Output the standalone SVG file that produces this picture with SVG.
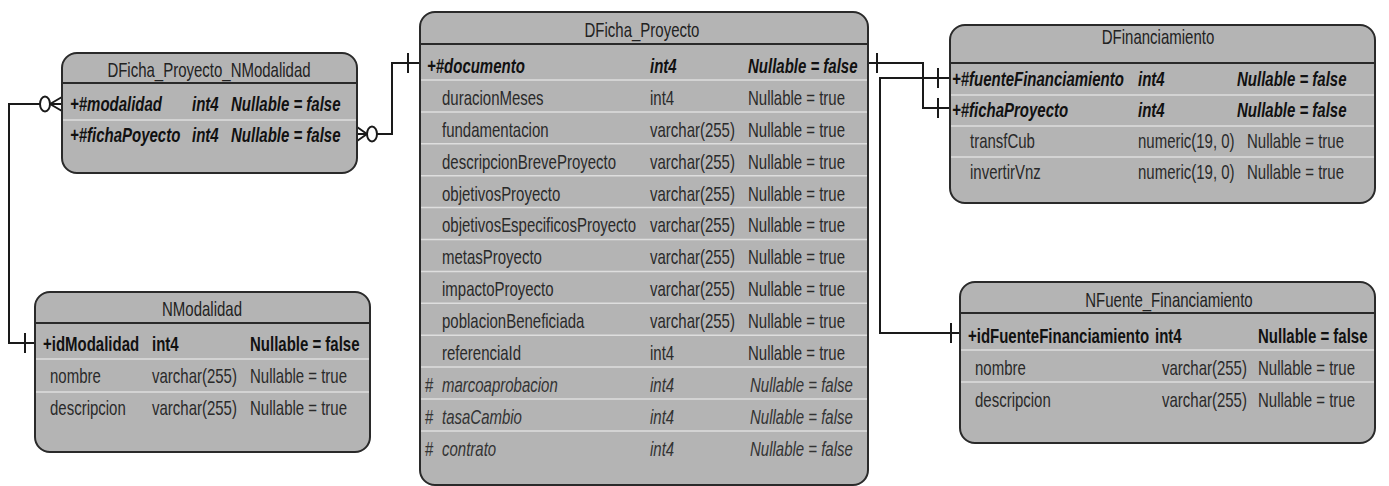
<svg xmlns="http://www.w3.org/2000/svg" width="1389" height="486" viewBox="0 0 1389 486">
  <style>
    .box { fill:#b4b4b4; stroke:#2a2a2a; stroke-width:2; }
    .hdr { stroke:#2a2a2a; stroke-width:2; }
    .sep { stroke:#dedede; stroke-width:1.5; }
    text { font-family:"Liberation Sans", Arial, sans-serif; font-size:20px; fill:#2a2a2a; }
    .title { fill:#222; }
    .k { font-weight:bold; font-style:italic; fill:#111; }
    .p { font-weight:bold; fill:#111; }
    .i { font-style:italic; fill:#333; }
    .wire { fill:none; stroke:#1a1a1a; stroke-width:2; }
  </style>

  <rect width="1389" height="486" fill="#ffffff"/>

  <!-- relationships -->
  <g id="connectors" class="wire">
    <!-- DFicha_Proyecto_NModalidad.modalidad -> NModalidad.idModalidad -->
    <path d="M40,104 H9 V343 H35"/>
    <ellipse cx="45" cy="104" rx="5" ry="7.5"/>
    <path d="M50,104 L62,97 M50,104 H62 M50,104 L62,111"/>
    <path d="M25,333 V353"/>
    <!-- DFicha_Proyecto_NModalidad.fichaPoyecto -> DFicha_Proyecto.documento -->
    <path d="M377,134 H392 V63 H420"/>
    <ellipse cx="372" cy="134" rx="5" ry="7.5"/>
    <path d="M367,134 L357,127 M367,134 H357 M367,134 L357,141"/>
    <path d="M408,53 V73"/>
    <!-- DFicha_Proyecto.documento -> DFinanciamiento.fichaProyecto -->
    <path d="M868,63 H923 V108 H950"/>
    <path d="M877,53 V73"/>
    <path d="M938,98 V118"/>
    <!-- DFinanciamiento.fuenteFinanciamiento -> NFuente_Financiamiento.idFuenteFinanciamiento -->
    <path d="M950,78 H880 V333 H960"/>
    <path d="M938,68 V88"/>
    <path d="M951,323 V343"/>
  </g>

  <!-- DFicha_Proyecto_NModalidad -->
  <g id="DFicha_Proyecto_NModalidad">
    <rect class="box" x="62" y="53" width="295" height="120" rx="15"/>
    <line class="hdr" x1="62" y1="83" x2="357" y2="83"/>
    <line class="sep" x1="63" y1="120" x2="356" y2="120"/>
    <g transform="translate(209 0) scale(0.75 1)"><text class="title" text-anchor="middle" y="77">DFicha_Proyecto_NModalidad</text></g>
    <g transform="translate(70 0) scale(0.75 1)">
      <text class="k" y="111">+#modalidad</text>
      <text class="k" y="142">+#fichaPoyecto</text>
    </g>
    <g transform="translate(192 0) scale(0.75 1)">
      <text class="k" y="111">int4</text>
      <text class="k" y="142">int4</text>
    </g>
    <g transform="translate(231 0) scale(0.75 1)">
      <text class="k" y="111">Nullable = false</text>
      <text class="k" y="142">Nullable = false</text>
    </g>
  </g>

  <!-- NModalidad -->
  <g id="NModalidad">
    <rect class="box" x="35" y="292" width="335" height="160" rx="15"/>
    <line class="hdr" x1="35" y1="323" x2="370" y2="323"/>
    <line class="sep" x1="36" y1="359" x2="369" y2="359"/>
    <line class="sep" x1="36" y1="392" x2="369" y2="392"/>
    <g transform="translate(202 0) scale(0.75 1)"><text class="title" text-anchor="middle" y="316">NModalidad</text></g>
    <g transform="translate(43 0) scale(0.75 1)"><text class="p" y="351">+idModalidad</text></g>
    <g transform="translate(50 0) scale(0.75 1)">
      <text y="383">nombre</text>
      <text y="415">descripcion</text>
    </g>
    <g transform="translate(152 0) scale(0.75 1)">
      <text class="p" y="351">int4</text>
      <text y="383">varchar(255)</text>
      <text y="415">varchar(255)</text>
    </g>
    <g transform="translate(250 0) scale(0.75 1)">
      <text class="p" y="351">Nullable = false</text>
      <text y="383">Nullable = true</text>
      <text y="415">Nullable = true</text>
    </g>
  </g>

  <!-- DFicha_Proyecto -->
  <g id="DFicha_Proyecto">
    <rect class="box" x="420" y="12" width="448" height="473" rx="15"/>
    <line class="hdr" x1="420" y1="44" x2="868" y2="44"/>
    <g class="sep">
      <line x1="421" y1="80" x2="867" y2="80"/>
      <line x1="421" y1="111.9" x2="867" y2="111.9"/>
      <line x1="421" y1="143.8" x2="867" y2="143.8"/>
      <line x1="421" y1="175.7" x2="867" y2="175.7"/>
      <line x1="421" y1="207.6" x2="867" y2="207.6"/>
      <line x1="421" y1="239.5" x2="867" y2="239.5"/>
      <line x1="421" y1="271.4" x2="867" y2="271.4"/>
      <line x1="421" y1="303.3" x2="867" y2="303.3"/>
      <line x1="421" y1="335.2" x2="867" y2="335.2"/>
      <line x1="421" y1="367.1" x2="867" y2="367.1"/>
      <line x1="421" y1="399" x2="867" y2="399"/>
      <line x1="421" y1="430.9" x2="867" y2="430.9"/>
    </g>
    <g transform="translate(642 0) scale(0.75 1)"><text class="title" text-anchor="middle" y="37">DFicha_Proyecto</text></g>
    <g transform="translate(427 0) scale(0.75 1)">
      <text class="k" y="73">+#documento</text>
    </g>
    <g transform="translate(425 0) scale(0.75 1)">
      <text class="i" style="font-style:normal" y="392">#</text>
      <text class="i" style="font-style:normal" y="423.9">#</text>
      <text class="i" style="font-style:normal" y="455.8">#</text>
    </g>
    <g transform="translate(442 0) scale(0.75 1)">
      <text y="104.9">duracionMeses</text>
      <text y="136.8">fundamentacion</text>
      <text y="168.7">descripcionBreveProyecto</text>
      <text y="200.6">objetivosProyecto</text>
      <text y="232.5">objetivosEspecificosProyecto</text>
      <text y="264.4">metasProyecto</text>
      <text y="296.3">impactoProyecto</text>
      <text y="328.2">poblacionBeneficiada</text>
      <text y="360.1">referenciaId</text>
      <text class="i" y="392">marcoaprobacion</text>
      <text class="i" y="423.9">tasaCambio</text>
      <text class="i" y="455.8">contrato</text>
    </g>
    <g transform="translate(650 0) scale(0.75 1)">
      <text class="k" y="73">int4</text>
      <text y="104.9">int4</text>
      <text y="136.8">varchar(255)</text>
      <text y="168.7">varchar(255)</text>
      <text y="200.6">varchar(255)</text>
      <text y="232.5">varchar(255)</text>
      <text y="264.4">varchar(255)</text>
      <text y="296.3">varchar(255)</text>
      <text y="328.2">varchar(255)</text>
      <text y="360.1">int4</text>
      <text class="i" y="392">int4</text>
      <text class="i" y="423.9">int4</text>
      <text class="i" y="455.8">int4</text>
    </g>
    <g transform="translate(748 0) scale(0.75 1)">
      <text class="k" y="73">Nullable = false</text>
      <text y="104.9">Nullable = true</text>
      <text y="136.8">Nullable = true</text>
      <text y="168.7">Nullable = true</text>
      <text y="200.6">Nullable = true</text>
      <text y="232.5">Nullable = true</text>
      <text y="264.4">Nullable = true</text>
      <text y="296.3">Nullable = true</text>
      <text y="328.2">Nullable = true</text>
      <text y="360.1">Nullable = true</text>
    </g>
    <g transform="translate(750 0) scale(0.75 1)">
      <text class="i" y="392">Nullable = false</text>
      <text class="i" y="423.9">Nullable = false</text>
      <text class="i" y="455.8">Nullable = false</text>
    </g>
  </g>

  <!-- DFinanciamiento -->
  <g id="DFinanciamiento">
    <rect class="box" x="950" y="25" width="425" height="178" rx="15"/>
    <line class="hdr" x1="950" y1="63" x2="1375" y2="63"/>
    <line class="sep" x1="951" y1="95" x2="1374" y2="95"/>
    <line class="sep" x1="951" y1="126" x2="1374" y2="126"/>
    <line class="sep" x1="951" y1="157" x2="1374" y2="157"/>
    <g transform="translate(1158 0) scale(0.75 1)"><text class="title" text-anchor="middle" y="44">DFinanciamiento</text></g>
    <g transform="translate(952 0) scale(0.75 1)">
      <text class="k" y="86">+#fuenteFinanciamiento</text>
      <text class="k" y="117">+#fichaProyecto</text>
    </g>
    <g transform="translate(970 0) scale(0.75 1)">
      <text y="148">transfCub</text>
      <text y="179">invertirVnz</text>
    </g>
    <g transform="translate(1138 0) scale(0.75 1)">
      <text class="k" y="86">int4</text>
      <text class="k" y="117">int4</text>
      <text y="148">numeric(19, 0)</text>
      <text y="179">numeric(19, 0)</text>
    </g>
    <g transform="translate(1237 0) scale(0.75 1)">
      <text class="k" y="86">Nullable = false</text>
      <text class="k" y="117">Nullable = false</text>
    </g>
    <g transform="translate(1247 0) scale(0.75 1)">
      <text y="148">Nullable = true</text>
      <text y="179">Nullable = true</text>
    </g>
  </g>

  <!-- NFuente_Financiamiento -->
  <g id="NFuente_Financiamiento">
    <rect class="box" x="960" y="282" width="415" height="161" rx="15"/>
    <line class="hdr" x1="960" y1="313" x2="1375" y2="313"/>
    <line class="sep" x1="961" y1="350" x2="1374" y2="350"/>
    <line class="sep" x1="961" y1="382" x2="1374" y2="382"/>
    <g transform="translate(1169 0) scale(0.75 1)"><text class="title" text-anchor="middle" y="307">NFuente_Financiamiento</text></g>
    <g transform="translate(968 0) scale(0.75 1)"><text class="p" y="343">+idFuenteFinanciamiento</text></g>
    <g transform="translate(975 0) scale(0.75 1)">
      <text y="375">nombre</text>
      <text y="407">descripcion</text>
    </g>
    <g transform="translate(1155 0) scale(0.75 1)"><text class="p" y="343">int4</text></g>
    <g transform="translate(1162 0) scale(0.75 1)">
      <text y="375">varchar(255)</text>
      <text y="407">varchar(255)</text>
    </g>
    <g transform="translate(1258 0) scale(0.75 1)">
      <text class="p" y="343">Nullable = false</text>
      <text y="375">Nullable = true</text>
      <text y="407">Nullable = true</text>
    </g>
  </g>
</svg>
